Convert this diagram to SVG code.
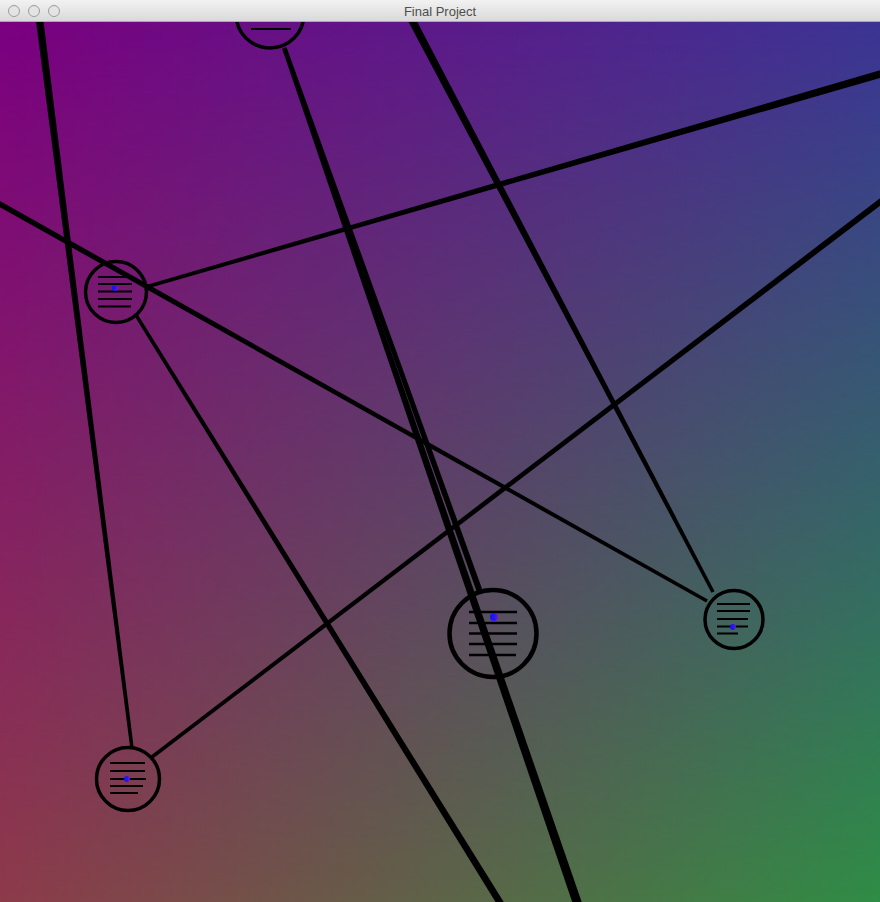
<svg xmlns="http://www.w3.org/2000/svg" width="880" height="902" viewBox="0 0 880 902">
<style>
.edge{fill:#000}
.ring{fill:none;stroke:#000;stroke-width:3.5}
.txt{stroke:#000;stroke-width:2;stroke-linecap:butt}
.dot{fill:url(#dotg)}
</style>
<defs>
<linearGradient id="topg" x1="0" y1="0" x2="1" y2="0"><stop offset="0" stop-color="#7B0080"/><stop offset="1" stop-color="#3C3494"/></linearGradient>
<linearGradient id="botg" x1="0" y1="0" x2="1" y2="0"><stop offset="0" stop-color="#8D3A4A"/><stop offset="1" stop-color="#2F8D45"/></linearGradient>
<linearGradient id="vfade" x1="0" y1="0" x2="0" y2="1"><stop offset="0" stop-color="#000"/><stop offset="1" stop-color="#fff"/></linearGradient>
<mask id="vm" maskUnits="userSpaceOnUse" x="0" y="22" width="880" height="880"><rect x="0" y="22" width="880" height="880" fill="url(#vfade)"/></mask>
<linearGradient id="dotg" x1="0" y1="0" x2="1" y2="0"><stop offset="0" stop-color="#1010ff"/><stop offset="0.6" stop-color="#2a18f0"/><stop offset="1" stop-color="#7a1ac8"/></linearGradient>
<linearGradient id="barg" x1="0" y1="0" x2="0" y2="1"><stop offset="0" stop-color="#F2F2F2"/><stop offset="1" stop-color="#D8D8D8"/></linearGradient>
</defs>
<g id="background">
<rect x="0" y="22" width="880" height="880" fill="url(#topg)"/>
<rect x="0" y="22" width="880" height="880" fill="url(#botg)" mask="url(#vm)"/>
</g>
<g id="connectors">
<polygon class="edge" points="33.98,5.47 41.42,4.53 133.74,747.78 130.26,748.22"/>
<polygon class="edge" points="400.46,6.86 407.54,3.14 714.55,591.18 711.45,592.82"/>
<polygon class="edge" points="-0.65,200.6 707.86,599.47 706.14,602.53 -3.35,205.4"/>
<polygon class="edge" points="145.51,285.32 880.96,69.96 883.04,77.16 146.49,288.68"/>
<polygon class="edge" points="134.51,315.92 137.49,314.08 504.48,903.16 498.52,906.84"/>
<polygon class="edge" points="150.94,755.61 880.18,198.11 883.82,202.89 153.06,758.39"/>
<polygon class="edge" points="282.11,48.65 285.89,47.35 582.26,903.54 573.74,906.46"/>
<polygon class="edge" points="283.35,48.59 286.65,47.41 482.82,590.99 477.18,593.01"/>
</g>
<g id="nodeA">
<circle class="ring" cx="270" cy="14" r="34"/>
<line class="txt" x1="251" y1="29" x2="291" y2="29"/>
</g>
<g id="nodeB">
<circle class="ring" cx="116" cy="292" r="30.5"/>
<line class="txt" x1="98" y1="277" x2="126" y2="277"/>
<line class="txt" x1="98" y1="284" x2="132" y2="284"/>
<line class="txt" x1="98" y1="291.5" x2="132" y2="291.5"/>
<line class="txt" x1="98" y1="299" x2="132" y2="299"/>
<line class="txt" x1="98" y1="306.5" x2="131" y2="306.5"/>
<circle class="dot" cx="115" cy="288" r="3"/>
</g>
<g id="nodeC">
<circle class="ring" cx="493" cy="633.5" r="43.5" style="stroke-width:4.5"/>
<line class="txt" x1="469" y1="612" x2="517" y2="612" style="stroke-width:2.5"/>
<line class="txt" x1="469" y1="623" x2="517" y2="623" style="stroke-width:2.5"/>
<line class="txt" x1="469" y1="633.5" x2="517" y2="633.5" style="stroke-width:2.5"/>
<line class="txt" x1="469" y1="644" x2="517" y2="644" style="stroke-width:2.5"/>
<line class="txt" x1="469" y1="655" x2="516" y2="655" style="stroke-width:2.5"/>
<circle class="dot" cx="494" cy="617" r="4"/>
</g>
<g id="nodeD">
<circle class="ring" cx="734" cy="619.5" r="29"/>
<line class="txt" x1="717" y1="604" x2="750" y2="604"/>
<line class="txt" x1="717" y1="611" x2="750" y2="611"/>
<line class="txt" x1="717" y1="619" x2="748" y2="619"/>
<line class="txt" x1="717" y1="626.5" x2="748" y2="626.5"/>
<line class="txt" x1="717" y1="633.5" x2="738" y2="633.5"/>
<circle class="dot" cx="733" cy="627" r="3"/>
</g>
<g id="nodeE">
<circle class="ring" cx="128" cy="779" r="31.5"/>
<line class="txt" x1="110" y1="763" x2="145" y2="763"/>
<line class="txt" x1="110" y1="771" x2="145" y2="771"/>
<line class="txt" x1="110" y1="779" x2="146" y2="779"/>
<line class="txt" x1="110" y1="786" x2="143" y2="786"/>
<line class="txt" x1="110" y1="793" x2="138" y2="793"/>
<circle class="dot" cx="127" cy="779" r="3"/>
</g>
<g id="titlebar">
<rect x="0" y="0" width="880" height="22" fill="url(#barg)"/>
<line x1="0" y1="21.5" x2="880" y2="21.5" stroke="#A9A9A9" stroke-width="1"/>
<circle cx="14" cy="11" r="5.5" fill="#E4E4E4" stroke="#9C9C9C" stroke-width="1"/>
<circle cx="34" cy="11" r="5.5" fill="#E4E4E4" stroke="#9C9C9C" stroke-width="1"/>
<circle cx="54" cy="11" r="5.5" fill="#E4E4E4" stroke="#9C9C9C" stroke-width="1"/>
<text x="440" y="15.5" text-anchor="middle" font-family="'Liberation Sans', Arial, sans-serif" font-size="13" fill="#4D4D4D">Final Project</text>
</g>
</svg>
